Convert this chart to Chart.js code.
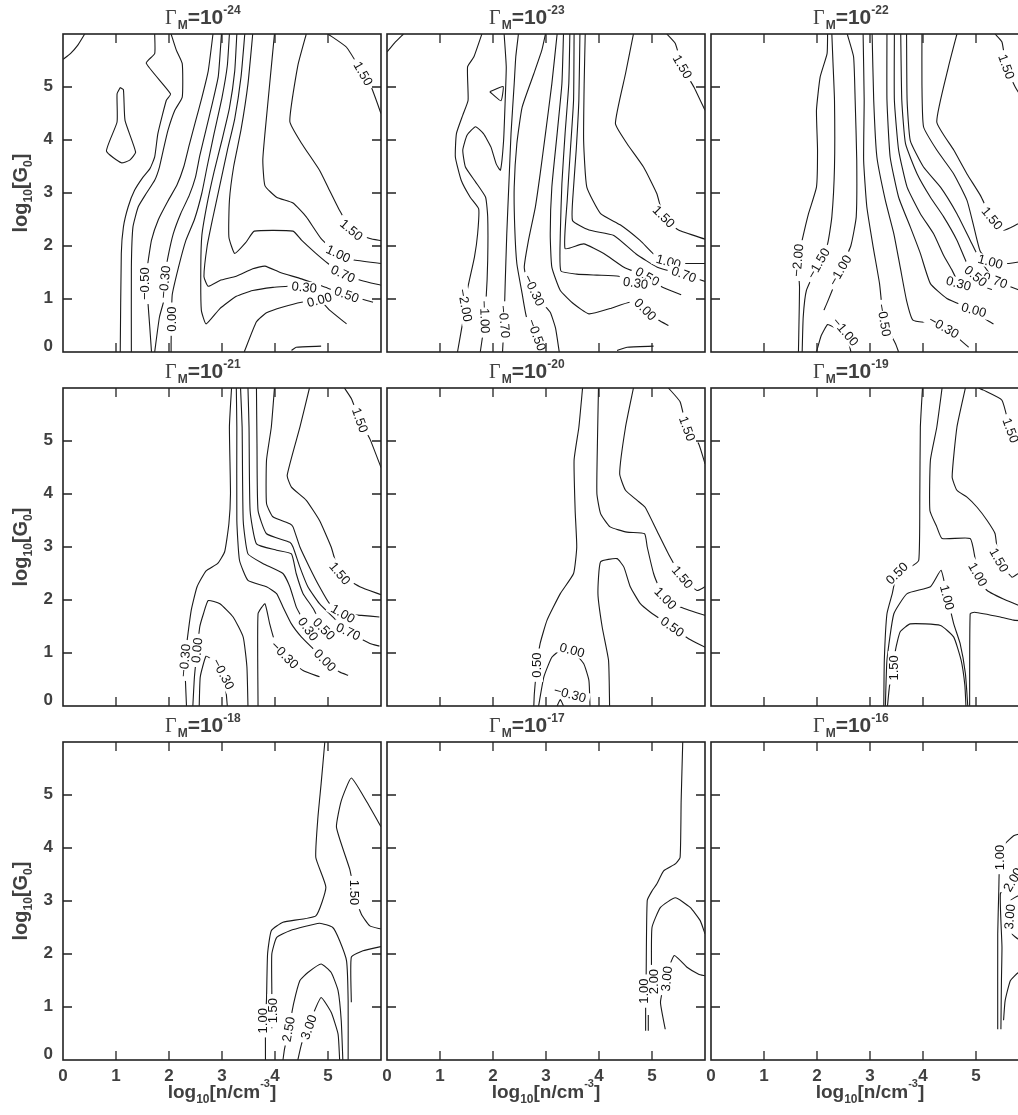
<!DOCTYPE html>
<html>
<head>
<meta charset="utf-8">
<script src="https://cdn.jsdelivr.net/npm/chart.js@4.4.1/dist/chart.umd.min.js"></script>
<style>
  html, body { margin: 0; padding: 0; background: #fff; width: 1018px; height: 1115px; overflow: hidden; }
  canvas { position: absolute; }
</style>
</head>
<body>
<script>
// exponents of Gamma_M, one per panel (row by row)
const gammaExps = [-24, -23, -22, -21, -20, -19, -18, -17, -16];
const xTicks = [0, 1, 2, 3, 4, 5];
const yTicks = [0, 1, 2, 3, 4, 5];

// contour lines, [log n, log G0] pairs
const g24Lines = [
  [[0,5.52],[0.14,5.63],[0.28,5.79],[0.41,6]],
  [[1.08,4.99],[1.14,4.95],[1.17,4.37],[1.37,3.77],[1.26,3.62],[1.10,3.57],[0.82,3.79],[1.02,4.34],[1.02,4.87],[1.08,4.99]],
  [[1.08,0],[1.10,1.86],[1.14,2.36],[1.23,2.74],[1.35,3.05],[1.51,3.30],[1.64,3.46],[1.73,3.68],[1.79,4.12],[1.95,4.75],[2.03,4.87],[1.57,5.45],[1.73,5.63],[1.73,6]],
  [[1.29,0],[1.29,1.6],[1.32,2.36],[1.42,2.74],[1.57,2.99],[1.73,3.24],[1.82,3.49],[1.89,3.8],[1.98,4.18],[2.11,4.56],[2.25,4.81],[2.25,5.44],[2.14,5.69],[2.04,6]],
  [[1.67,0],[1.60,0.97],[1.55,1.29],[1.60,1.67],[1.67,2.11],[1.80,2.50],[1.98,2.85],[2.15,3.15],[2.28,3.5],[2.38,3.9],[2.50,4.35],[2.62,4.8],[2.74,5.3],[2.83,6]],
  [[1.73,0],[1.82,0.66],[1.92,1.04],[1.92,1.42],[1.98,1.79],[2.08,2.23],[2.22,2.61],[2.38,2.95],[2.50,3.3],[2.58,3.7],[2.70,4.2],[2.82,4.7],[2.93,5.2],[2.99,6]],
  [[2.04,0],[2.04,0.2],[2.06,1.07],[2.18,1.60],[2.32,2.11],[2.48,2.50],[2.62,3.0],[2.72,3.5],[2.85,4.12],[3.0,4.8],[3.10,5.4],[3.14,6]],
  [[3.28,6],[3.24,5.3],[3.14,4.6],[3.0,4.0],[2.85,3.4],[2.72,2.8],[2.62,2.2],[2.60,1.60],[2.61,0.79],[2.70,0.53],[2.96,0.82],[3.27,1.05],[3.58,1.16],[3.96,1.22],[4.25,1.24]],
  [[3.43,6],[3.36,5.2],[3.24,4.4],[3.1,3.8],[2.95,3.1],[2.82,2.5],[2.72,2.0],[2.66,1.42],[2.74,1.24],[2.96,1.35],[3.27,1.43],[3.58,1.57],[3.81,1.62],[4.10,1.50],[4.50,1.38],[4.95,1.22],[5.35,1.08],[5.85,0.94]],
  [[3.58,6],[3.49,5.06],[3.36,4.2],[3.22,3.5],[3.14,2.86],[3.13,2.17],[3.24,1.86],[3.46,2.08],[3.61,2.28],[4.34,2.28],[4.50,2.11],[4.75,1.88],[5.0,1.67],[5.28,1.47],[5.63,1.35],[6,1.26]],
  [[3.99,6],[3.90,5.06],[3.81,4.12],[3.77,3.62],[3.81,3.14],[4.03,2.92],[4.34,2.81],[4.59,2.55],[4.87,2.14],[5.19,1.85],[5.47,1.74],[6,1.67]],
  [[4.59,6],[4.43,5.4],[4.28,4.35],[4.50,3.94],[4.84,3.43],[5.0,3.11],[5.22,2.67],[5.44,2.30],[5.79,2.14],[6,2.1]],
  [[5.0,6],[5.35,5.75],[5.66,5.25],[5.82,4.99],[6,4.5]],
  [[3.42,0],[3.65,0.57],[3.84,0.74],[4.15,0.85],[4.50,0.94],[4.84,0.98],[5.03,0.79],[5.35,0.53]],
  [[4.31,0.03],[4.40,0.09],[4.87,0.11]]
];
const g24Labels = [
  [5.66,5.25,'1.50',60],[5.44,2.30,'1.50',40],[5.19,1.85,'1.00',25],[5.28,1.47,'0.70',25],
  [5.35,1.08,'0.50',20],[4.55,1.22,'0.30',5],[4.84,0.98,'0.00',-15],
  [1.55,1.29,'−0.50',-90],[1.92,1.32,'−0.30',-85],[2.05,0.62,'0.00',-90]
];

const g23Lines = [
  [[0,5.66],[0.14,5.83],[0.31,6]],
  [[1.94,4.91],[2.19,5.01],[2.15,4.74],[1.94,4.91]],
  [[1.33,0],[1.43,0.57],[1.52,1.19],[1.65,1.79],[1.71,2.23],[1.73,2.70],[1.57,2.92],[1.40,3.24],[1.29,3.68],[1.31,4.12],[1.43,4.47],[1.53,4.75],[1.52,5.38],[1.64,5.57],[1.79,6]],
  [[1.76,0],[1.81,0.35],[1.87,1.01],[1.90,1.73],[1.90,2.55],[1.86,2.92],[1.67,3.21],[1.48,3.49],[1.43,3.81],[1.51,4.09],[1.67,4.25],[1.82,4.12],[1.96,3.87],[2.06,3.55],[2.14,3.43],[2.20,3.99],[2.23,4.75],[2.25,5.38],[2.21,6]],
  [[2.18,0],[2.21,0.60],[2.23,1.29],[2.26,2.23],[2.30,3.18],[2.34,4.12],[2.40,5.06],[2.43,5.57],[2.48,6]],
  [[2.96,0],[2.86,0.31],[2.64,0.63],[2.55,1.10],[2.45,1.67],[2.41,2.36],[2.40,3.11],[2.45,3.93],[2.55,4.62],[2.77,5.25],[2.92,5.69],[2.99,6]],
  [[3.21,6],[3.11,5.06],[2.99,4.12],[2.89,3.36],[2.80,2.74],[2.67,2.11],[2.59,1.60],[2.64,1.35],[2.77,1.16],[2.92,0.94],[3.08,0.75],[3.18,0.45],[3.25,0]],
  [[3.33,6],[3.30,5.06],[3.21,4.12],[3.11,3.11],[3.08,2.23],[3.11,1.60],[3.27,1.16],[3.52,0.91],[3.81,0.72],[4.21,0.82],[4.59,0.94],[4.87,0.80],[5.13,0.60],[5.31,0.50]],
  [[3.45,6],[3.43,5.06],[3.36,4.12],[3.30,3.18],[3.27,2.23],[3.28,1.53],[3.58,1.47],[3.96,1.45],[4.37,1.43],[4.69,1.30]],
  [[3.53,6],[3.52,4.75],[3.46,3.81],[3.40,2.86],[3.36,1.95],[3.71,2.04],[4.09,1.86],[4.47,1.60],[4.91,1.42],[5.20,1.22],[5.55,1.08]],
  [[3.64,6],[3.62,4.75],[3.57,3.81],[3.52,3.11],[3.50,2.48],[3.81,2.30],[4.28,2.20],[4.70,1.85],[5.10,1.60],[5.60,1.46],[6,1.33]],
  [[3.74,6],[3.72,5.06],[3.71,3.99],[3.77,3.11],[4.03,2.61],[4.40,2.40],[4.78,2.10],[5.03,1.85],[5.31,1.70],[5.60,1.67],[6,1.67]],
  [[4.65,6],[4.50,5.25],[4.31,4.31],[4.53,3.93],[4.84,3.49],[5.09,2.99],[5.22,2.55],[5.50,2.30],[6,2.13]],
  [[5.28,6],[5.44,5.82],[5.57,5.38],[5.79,5.0],[6,4.56]],
  [[4.34,0.03],[4.53,0.09],[5.03,0.11]]
];
const g23Labels = [
  [5.57,5.38,'1.50',60],[5.22,2.55,'1.50',45],[5.31,1.70,'1.00',15],[5.60,1.46,'0.70',20],
  [4.91,1.42,'0.50',30],[4.69,1.30,'0.30',8],[4.87,0.80,'0.00',45],
  [2.77,1.16,'−0.30',65],[2.82,0.32,'−0.50',70],[2.21,0.57,'−0.70',85],[1.84,0.66,'−1.00',88],[1.47,0.88,'−2.00',80]
];

const g22Lines = [
  [[1.65,0],[1.67,1.23],[1.64,1.73],[1.72,2.11],[1.84,2.61],[1.99,3.11],[2.01,3.81],[1.99,4.56],[2.06,5.19],[2.19,5.63],[2.20,6]],
  [[1.72,0],[1.74,0.66],[1.80,1.16],[2.03,1.67],[2.20,2.04],[2.28,2.55],[2.33,3.49],[2.33,4.75],[2.30,5.50],[2.28,6]],
  [[2.13,0.79],[2.20,0.95],[2.44,1.54],[2.64,2.01],[2.74,2.55],[2.75,3.62],[2.72,4.75],[2.69,5.57],[2.57,6]],
  [[1.99,0],[2.08,0.31],[2.20,0.52],[2.31,0.47],[2.53,0.38],[2.62,0.09],[2.64,0]],
  [[2.87,6],[2.89,4.75],[2.88,3.62],[2.94,2.74],[3.06,1.98],[3.18,1.29],[3.26,0.60],[3.48,0.16],[3.54,0]],
  [[3.04,6],[3.07,4.75],[3.13,3.68],[3.29,2.86],[3.45,2.23],[3.57,1.60],[3.69,0.97],[3.81,0.60],[4.09,0.55],[4.39,0.47],[4.64,0.28],[4.86,0.09]],
  [[3.32,6],[3.32,4.75],[3.38,3.68],[3.54,2.92],[3.76,2.36],[3.95,1.86],[4.14,1.29],[4.45,1.01],[4.96,0.79],[5.21,0.60],[5.33,0.53]],
  [[3.46,6],[3.46,4.75],[3.54,3.81],[3.70,3.11],[3.95,2.61],[4.20,2.23],[4.39,1.82],[4.55,1.54],[4.67,1.29]],
  [[3.58,6],[3.60,4.75],[3.67,3.93],[3.89,3.36],[4.14,2.92],[4.39,2.55],[4.64,2.11],[4.83,1.67],[4.99,1.43],[5.21,1.21],[5.30,1.18]],
  [[3.69,6],[3.70,4.75],[3.76,3.99],[4.01,3.49],[4.33,3.11],[4.64,2.61],[4.89,2.11],[5.08,1.73],[5.36,1.35],[5.65,1.23],[6,1.10]],
  [[3.98,6],[3.98,5.06],[4.01,4.25],[4.26,3.81],[4.58,3.36],[4.83,2.86],[4.96,2.36],[5.08,1.90],[5.27,1.70],[5.62,1.67],[6,1.73]],
  [[4.64,6],[4.48,5.38],[4.26,4.34],[4.58,3.81],[4.83,3.36],[5.08,2.96],[5.30,2.52],[5.52,2.30],[5.80,2.42],[6,2.48]],
  [[5.36,6],[5.49,5.85],[5.57,5.38],[5.74,5.0],[5.90,4.75],[6,4.62]]
];
const g22Labels = [
  [5.57,5.38,'1.50',70],[5.30,2.52,'1.50',50],[5.27,1.70,'1.00',15],[5.36,1.35,'0.70',20],
  [4.99,1.43,'0.50',40],[4.67,1.29,'0.30',15],[4.96,0.79,'0.00',15],[4.39,0.47,'−0.30',30],
  [3.26,0.60,'−0.50',80],[2.53,0.38,'−1.00',50],[2.44,1.54,'−1.00',-60],[2.03,1.67,'−1.50',-60],[1.64,1.73,'−2.00',-85]
];

const g21Lines = [
  [[2.33,0],[2.31,0.48],[2.30,0.86],[2.35,1.30],[2.42,1.81],[2.53,2.25],[2.70,2.55],[2.92,2.69],[3.05,2.91],[3.13,3.44],[3.16,4.01],[3.14,5.27],[3.18,6]],
  [[2.45,0],[2.48,0.55],[2.53,1.05],[2.58,1.49],[2.65,1.74],[2.74,1.99],[2.96,1.93],[3.21,1.68],[3.40,1.30],[3.47,0.74],[3.49,0]],
  [[2.57,0],[2.59,0.55],[2.70,0.94],[2.83,0.86],[2.99,0.77],[3.08,0.23],[3.10,0]],
  [[3.68,0],[3.68,1.74],[3.81,1.93],[3.90,1.55],[3.99,1.24],[4.18,0.96],[4.53,0.67],[4.84,0.55]],
  [[3.27,6],[3.28,5.26],[3.28,3.50],[3.33,2.75],[3.49,2.37],[3.84,2.25],[4.03,2.12],[4.15,1.87],[4.31,1.55],[4.50,1.30],[4.72,1.08],[4.94,0.86],[5.22,0.64],[5.38,0.58]],
  [[3.35,6],[3.38,5.26],[3.40,3.50],[3.49,2.87],[3.77,2.69],[4.15,2.50],[4.28,2.25],[4.40,1.87],[4.50,1.68],[4.65,1.40]],
  [[3.49,6],[3.51,5.26],[3.53,3.69],[3.65,3.06],[4.03,2.94],[4.31,2.87],[4.40,2.50],[4.53,2.12],[4.72,1.84],[4.94,1.40]],
  [[3.65,6],[3.66,4.95],[3.68,3.69],[3.84,3.25],[4.28,3.09],[4.34,3.00],[4.47,2.62],[4.62,2.25],[4.84,1.93],[5.09,1.68],[5.38,1.40],[5.79,1.18],[5.97,1.13]],
  [[3.99,6],[3.93,5.26],[3.84,4.64],[3.84,3.82],[3.96,3.57],[4.28,3.44],[4.34,3.38],[4.47,3.00],[4.65,2.62],[4.84,2.25],[5.03,1.93],[5.28,1.74],[5.63,1.71],[5.97,1.68]],
  [[4.65,6],[4.47,5.26],[4.23,4.35],[4.31,4.13],[4.59,3.88],[4.84,3.50],[5.06,3.00],[5.22,2.50],[5.60,2.25],[6,2.10]],
  [[5.31,6],[5.44,5.80],[5.60,5.39],[5.79,5.04],[6,4.5]]
];
const g21Labels = [
  [5.60,5.39,'1.50',70],[5.22,2.50,'1.50',50],[5.28,1.74,'1.00',30],[5.38,1.40,'0.70',25],
  [4.92,1.45,'0.50',45],[4.62,1.45,'0.30',55],[4.94,0.86,'0.00',45],[4.18,0.96,'−0.30',45],
  [2.30,0.86,'−0.30',-85],[2.53,1.05,'0.00',-85],[3.02,0.60,'−0.30',62]
];

const g20Lines = [
  [[2.77,0],[2.78,0.23],[2.83,0.77],[2.89,1.18],[3.02,1.62],[3.27,2.12],[3.52,2.50],[3.58,3.00],[3.55,3.69],[3.53,4.64],[3.62,5.26],[3.69,6]],
  [[2.86,0],[2.96,0.55],[3.11,0.92],[3.27,1.05],[3.49,1.05],[3.71,0.80],[3.81,0.48],[3.83,0]],
  [[3.21,0],[3.27,0.12],[3.33,0]],
  [[4.20,0],[4.18,0.86],[4.06,1.49],[3.98,2.12],[4.03,2.72],[4.34,2.78],[4.47,2.62],[4.59,2.25],[4.78,1.93],[4.97,1.77],[5.38,1.49],[5.69,1.27],[6,1.11]],
  [[3.99,6],[3.97,4.95],[3.96,4.01],[4.03,3.63],[4.21,3.38],[4.53,3.28],[4.86,3.25],[4.91,3.00],[5.03,2.50],[5.13,2.25],[5.25,2.03],[5.53,1.87],[6,1.71]],
  [[4.65,6],[4.50,5.26],[4.39,4.38],[4.50,4.07],[4.72,3.88],[4.87,3.75],[5.09,3.31],[5.31,2.87],[5.57,2.43],[5.85,2.18],[6,2.25]],
  [[5.31,6],[5.53,5.74],[5.66,5.23],[5.88,4.95],[6,4.57]]
];
const g20Labels = [
  [5.66,5.23,'1.50',70],[5.57,2.43,'1.50',50],[5.25,2.03,'1.00',45],[5.38,1.49,'0.50',35],
  [2.83,0.77,'0.50',-90],[3.49,1.05,'0.00',15],[3.45,0.22,'−0.30',15]
];

const g19Lines = [
  [[3.26,0],[3.27,0.86],[3.32,1.74],[3.42,2.12],[3.51,2.50],[3.76,2.62],[3.92,2.75],[3.94,4.01],[3.95,5.26],[3.99,6]],
  [[3.29,0],[3.32,0.86],[3.45,1.74],[3.70,2.12],[4.14,2.25],[4.34,2.56],[4.45,2.10],[4.58,1.55],[4.70,1.18],[4.80,0.61],[4.845,0]],
  [[3.33,0],[3.37,0.39],[3.45,0.70],[3.48,1.05],[3.57,1.40],[3.76,1.55],[4.33,1.52],[4.58,1.30],[4.72,0.86],[4.79,0.39],[4.81,0]],
  [[4.88,0],[4.89,1.74],[4.97,1.77],[5.46,1.68],[5.71,1.62],[6,1.60]],
  [[4.36,6],[4.26,5.26],[4.14,4.64],[4.13,3.69],[4.26,3.38],[4.36,3.16],[4.89,3.16],[4.98,2.80],[5.04,2.43],[5.21,2.18],[5.58,1.99],[6,1.82]],
  [[4.80,6],[4.64,5.26],[4.55,4.32],[4.64,4.07],[4.83,3.94],[5.02,3.75],[5.21,3.50],[5.36,3.25],[5.43,2.75],[5.68,2.43],[5.80,2.50],[6,2.45]],
  [[5.05,6],[5.14,5.96],[5.49,5.77],[5.65,5.20],[5.85,4.9],[6,4.7]]
];
const g19Labels = [
  [5.65,5.20,'1.50',70],[5.43,2.75,'1.50',60],[5.03,2.48,'1.00',60],[4.45,2.05,'1.00',75],
  [3.51,2.50,'0.50',-45],[3.45,0.72,'1.50',-90]
];

const g18Lines = [
  [[3.82,0],[3.82,0.74],[3.84,1.15],[3.86,2.00],[3.93,2.44],[4.15,2.60],[4.77,2.72],[4.96,3.26],[4.77,3.82],[4.81,4.58],[4.87,5.21],[4.94,6]],
  [[3.94,0.6],[3.94,1.31],[3.94,2.00],[4.03,2.31],[4.28,2.44],[4.84,2.58],[5.09,2.50],[5.22,2.25],[5.35,1.87],[5.38,1.12],[5.38,0]],
  [[4.15,0],[4.18,0.21],[4.26,0.58],[4.35,1.06],[4.47,1.50],[4.62,1.65],[4.87,1.81],[5.06,1.65],[5.19,1.31],[5.25,0.74],[5.28,0]],
  [[4.43,0],[4.50,0.30],[4.62,0.62],[4.72,0.87],[4.87,1.18],[5.06,0.90],[5.19,0.49],[5.22,0]],
  [[5.44,1.09],[5.44,1.94],[5.66,2.06],[6,2.14]],
  [[6,2.47],[5.79,2.53],[5.63,2.75],[5.50,3.16],[5.41,3.60],[5.16,4.39],[5.25,4.89],[5.44,5.32],[5.72,4.89],[6,4.40]]
];
const g18Labels = [
  [3.77,0.74,'1.00',-90],[3.97,0.93,'1.50',-90],[4.26,0.58,'2.50',-80],[4.64,0.62,'3.00',-70],[5.50,3.16,'1.50',90]
];

const g17Lines = [
  [[4.88,0.55],[4.88,0.96],[4.89,1.62],[4.91,3.01],[5.0,3.19],[5.09,3.32],[5.22,3.57],[5.44,3.70],[5.53,3.82],[5.55,4.89],[5.58,6]],
  [[4.93,0.55],[4.93,0.85]],
  [[4.99,1.2],[4.99,1.75],[5.0,2.50],[5.16,2.88],[5.44,3.06],[5.72,2.88],[5.91,2.63],[6,2.38]],
  [[5.25,0.58],[5.16,1.09],[5.25,1.53],[5.42,1.97],[5.66,1.75],[5.88,1.62],[6,1.59]]
];
const g17Labels = [[4.85,1.30,'1.00',-90],[5.04,1.48,'2.00',-90],[5.28,1.53,'3.00',-85]];

const g16Lines = [
  [[5.41,0.58],[5.41,2.38],[5.43,3.20],[5.45,3.82],[5.55,4.08],[5.71,4.23],[5.80,4.26],[6,4.28]],
  [[5.47,0.58],[5.48,1.5],[5.49,2.13],[5.46,3.14],[5.60,3.28],[5.75,3.40],[6,3.45]],
  [[5.52,0.75],[5.55,1.12],[5.65,1.50],[5.80,1.65],[6,1.70]],
  [[6,3.15],[5.80,3.10],[5.65,3.01],[5.58,2.75],[5.68,2.38],[5.80,2.28],[6,2.25]]
];
const g16Labels = [[5.45,3.82,'1.00',-90],[5.70,3.40,'2.00',-60],[5.64,2.70,'3.00',-85]];

const panelLines = [g24Lines, g23Lines, g22Lines, g21Lines, g20Lines, g19Lines, g18Lines, g17Lines, g16Lines];
const panelLabels = [g24Labels, g23Labels, g22Labels, g21Labels, g20Labels, g19Labels, g18Labels, g17Labels, g16Labels];

// layout
const colLeft = [63, 387, 711];
const rowTop = [34, 388, 742];
const box = 318;
const pad = { left: 63, top: 35, right: 10, bottom: 60 };
const SANS = '"Liberation Sans", Arial, Helvetica, sans-serif';
const SERIF = '"Liberation Serif", "Times New Roman", serif';
const textGray = '#404040';

// draw a run of [text, font, dy] pieces from x; with x === null only measure
function drawPieces(ctx, pieces, x, y) {
  let w = 0;
  pieces.forEach(([t, f]) => { ctx.font = f; w += ctx.measureText(t).width; });
  if (x === null) return w;
  pieces.forEach(([t, f, dy]) => {
    ctx.font = f;
    ctx.fillText(t, x, y + dy);
    x += ctx.measureText(t).width;
  });
  return w;
}

const decor = {
  id: 'decor',
  afterDatasetsDraw(chart, args, opts) {
    const { ctx, chartArea: a, scales: { x, y } } = chart;
    ctx.save();
    ctx.beginPath();
    ctx.rect(a.left, a.top, a.right - a.left, a.bottom - a.top);
    ctx.clip();
    ctx.font = '13px ' + SANS;
    ctx.textAlign = 'center';
    ctx.textBaseline = 'middle';
    opts.labels.forEach(([vx, vy, txt, ang]) => {
      ctx.save();
      ctx.translate(x.getPixelForValue(vx), y.getPixelForValue(vy));
      ctx.rotate(ang * Math.PI / 180);
      const w = ctx.measureText(txt).width;
      ctx.fillStyle = '#fff';
      ctx.fillRect(-w / 2 - 4, -6, w + 8, 12);
      ctx.fillStyle = '#111';
      ctx.fillText(txt, 0, 0.5);
      ctx.restore();
    });
    ctx.restore();
  },
  afterDraw(chart, args, opts) {
    const { ctx, chartArea: a, scales: { x, y } } = chart;
    ctx.save();
    ctx.strokeStyle = '#222';
    ctx.lineWidth = 1.6;
    ctx.strokeRect(a.left, a.top, a.right - a.left, a.bottom - a.top);

    // inward ticks on all four sides
    ctx.lineWidth = 1.3;
    ctx.beginPath();
    xTicks.filter(v => v > 0).forEach(v => {
      const px = x.getPixelForValue(v);
      ctx.moveTo(px, a.bottom); ctx.lineTo(px, a.bottom - 9);
      ctx.moveTo(px, a.top); ctx.lineTo(px, a.top + 9);
    });
    yTicks.filter(v => v > 0).forEach(v => {
      const py = y.getPixelForValue(v);
      ctx.moveTo(a.left, py); ctx.lineTo(a.left + 9, py);
      ctx.moveTo(a.right, py); ctx.lineTo(a.right - 9, py);
    });
    ctx.stroke();

    ctx.fillStyle = textGray;
    // title  Γ_M = 10^exp
    ctx.textAlign = 'left';
    ctx.textBaseline = 'alphabetic';
    drawPieces(ctx, [
      ['Γ', '20px ' + SERIF, 0],
      [' ', '4px ' + SANS, 0],
      ['M', 'bold 12px ' + SANS, 5],
      ['=10', 'bold 21px ' + SANS, 0],
      [String(gammaLabel(opts.exp)), 'bold 12px ' + SANS, -10]
    ], a.left + 102, a.top - 10);

    if (opts.col === 0) {
      ctx.font = 'bold 17px ' + SANS;
      ctx.textAlign = 'right';
      ctx.textBaseline = 'middle';
      yTicks.forEach(v => {
        ctx.fillText(String(v), a.left - 10, y.getPixelForValue(v) - (v === 0 ? 6 : 1));
      });
      const pieces = [
        ['log', 'bold 20px ' + SANS, 0],
        ['10', 'bold 12px ' + SANS, 5],
        ['[G', 'bold 20px ' + SANS, 0],
        ['0', 'bold 12px ' + SANS, 5],
        [']', 'bold 20px ' + SANS, 0]
      ];
      ctx.save();
      ctx.translate(a.left - 36, (a.top + a.bottom) / 2);
      ctx.rotate(-Math.PI / 2);
      ctx.textAlign = 'left';
      ctx.textBaseline = 'alphabetic';
      const w = drawPieces(ctx, pieces, null, 0);
      drawPieces(ctx, pieces, -w / 2, 0);
      ctx.restore();
    }
    if (opts.row === 2) {
      ctx.font = 'bold 17px ' + SANS;
      ctx.textAlign = 'center';
      ctx.textBaseline = 'middle';
      xTicks.forEach(v => {
        ctx.fillText(String(v), x.getPixelForValue(v), a.bottom + 16);
      });
      const pieces = [
        ['log', 'bold 19px ' + SANS, 0],
        ['10', 'bold 12px ' + SANS, 5],
        ['[n/cm', 'bold 19px ' + SANS, 0],
        ['-3', 'bold 11px ' + SANS, -11],
        [']', 'bold 19px ' + SANS, 0]
      ];
      ctx.textAlign = 'left';
      ctx.textBaseline = 'alphabetic';
      const w = drawPieces(ctx, pieces, null, 0);
      drawPieces(ctx, pieces, (a.left + a.right) / 2 - w / 2, a.bottom + 38);
    }
    ctx.restore();
  }
};

function gammaLabel(exp) {
  return String(exp);
}

gammaExps.forEach((exp, i) => {
  const col = i % 3, row = Math.floor(i / 3);
  const canvas = document.createElement('canvas');
  canvas.width = box + pad.left + pad.right;
  canvas.height = box + pad.top + pad.bottom;
  canvas.style.left = (colLeft[col] - pad.left) + 'px';
  canvas.style.top = (rowTop[row] - pad.top) + 'px';
  document.body.appendChild(canvas);

  new Chart(canvas.getContext('2d'), {
    type: 'scatter',
    data: {
      datasets: panelLines[i].map(line => ({
        data: line.map(p => ({ x: p[0], y: p[1] })),
        showLine: true,
        borderColor: '#1a1a1a',
        borderWidth: 1.1,
        pointRadius: 0,
        tension: 0.15,
        fill: false
      }))
    },
    options: {
      responsive: false,
      devicePixelRatio: 1,
      animation: false,
      events: [],
      layout: { padding: pad },
      scales: {
        x: { type: 'linear', min: 0, max: 6, display: false },
        y: { type: 'linear', min: 0, max: 6, display: false }
      },
      plugins: {
        legend: { display: false },
        tooltip: { enabled: false },
        decor: { exp: exp, row: row, col: col, labels: panelLabels[i] }
      }
    },
    plugins: [decor]
  });
});
</script>
</body>
</html>
